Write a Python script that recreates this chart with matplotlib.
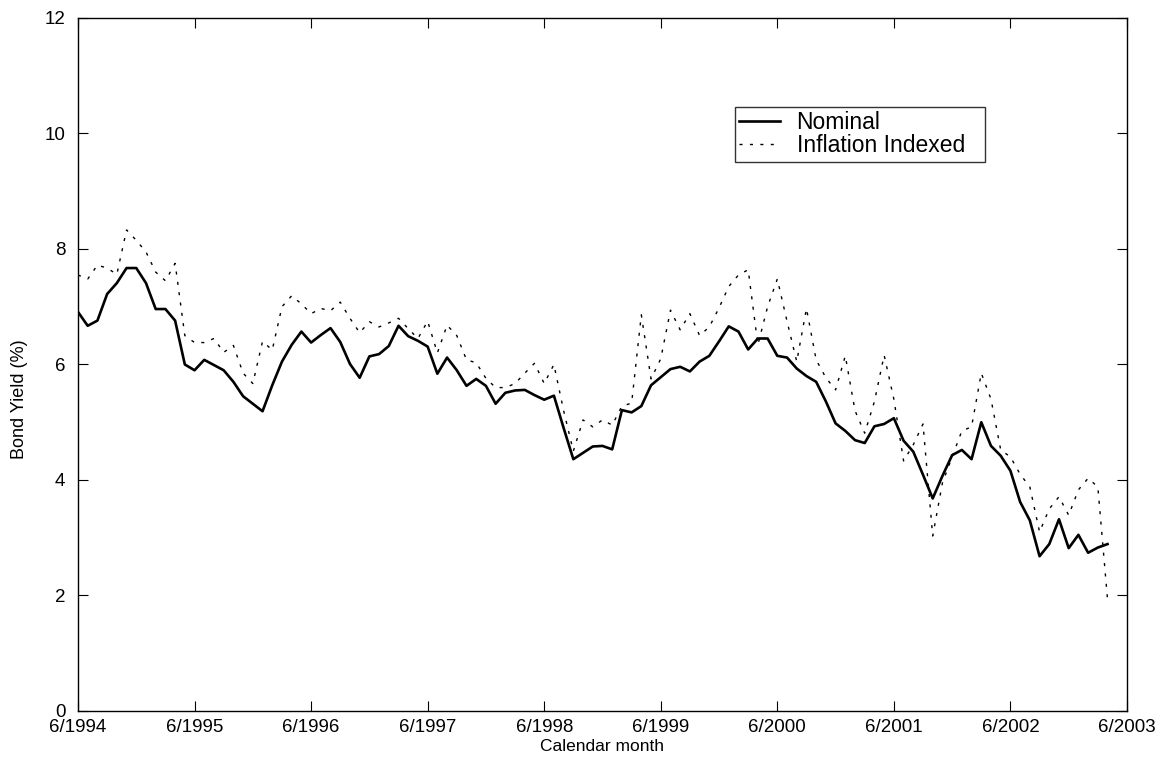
import matplotlib
matplotlib.use("Agg")
import matplotlib.pyplot as plt
import numpy as np

# monthly bond yields (%), starting 6/1994
nominal = [
    6.91, 6.67, 6.76, 7.22, 7.41, 7.67, 7.67, 7.41, 6.96, 6.96,
    6.76, 6.00, 5.90, 6.08, 5.99, 5.90, 5.70, 5.45, 5.32, 5.19,
    5.64, 6.05, 6.34, 6.57, 6.38, 6.51, 6.63, 6.39, 6.01, 5.77,
    6.14, 6.18, 6.32, 6.67, 6.49, 6.41, 6.31, 5.84, 6.12, 5.90,
    5.63, 5.75, 5.63, 5.32, 5.51, 5.55, 5.56, 5.47, 5.39, 5.46,
    4.90, 4.36, 4.47, 4.58, 4.59, 4.53, 5.21, 5.17, 5.28, 5.64,
    5.78, 5.92, 5.96, 5.88, 6.05, 6.15, 6.40, 6.66, 6.57, 6.26,
    6.45, 6.45, 6.15, 6.12, 5.93, 5.80, 5.70, 5.36, 4.98, 4.85,
    4.69, 4.64, 4.93, 4.97, 5.07, 4.68, 4.49, 4.09, 3.68, 4.07,
    4.43, 4.52, 4.36, 5.00, 4.59, 4.42, 4.16, 3.62, 3.30, 2.68,
    2.89, 3.32, 2.82, 3.05, 2.74, 2.83, 2.89,
]
indexed = [
    7.55, 7.48, 7.72, 7.67, 7.56, 8.33, 8.15, 7.95, 7.60, 7.45,
    7.75, 6.50, 6.38, 6.38, 6.45, 6.21, 6.33, 5.85, 5.67, 6.40,
    6.25, 7.00, 7.19, 7.05, 6.88, 6.97, 6.93, 7.08, 6.80, 6.55,
    6.74, 6.65, 6.72, 6.80, 6.62, 6.45, 6.75, 6.20, 6.68, 6.50,
    6.08, 6.03, 5.76, 5.60, 5.60, 5.67, 5.85, 6.02, 5.67, 6.00,
    5.20, 4.50, 5.04, 4.92, 5.04, 4.95, 5.28, 5.33, 6.86, 5.75,
    6.10, 6.94, 6.60, 6.88, 6.50, 6.65, 6.98, 7.35, 7.55, 7.64,
    6.34, 7.00, 7.48, 6.75, 6.05, 6.97, 6.08, 5.77, 5.56, 6.15,
    5.20, 4.81, 5.36, 6.16, 5.40, 4.33, 4.61, 4.97, 3.03, 3.95,
    4.40, 4.85, 4.92, 5.85, 5.40, 4.52, 4.40, 4.10, 3.88, 3.10,
    3.50, 3.71, 3.39, 3.83, 4.03, 3.88, 1.93,
]
tick_labels = ["6/1994", "6/1995", "6/1996", "6/1997", "6/1998",
               "6/1999", "6/2000", "6/2001", "6/2002", "6/2003"]

plt.rcParams["font.family"] = ["Liberation Sans", "DejaVu Sans"]

months = np.arange(len(nominal))

fig = plt.figure(figsize=(11.71, 7.65), dpi=100)
ax = fig.add_axes([0.0666, 0.0706, 0.8958, 0.9059])

ax.plot(months, nominal, color="black", lw=1.9, label="Nominal")
ax.plot(months, indexed, color="black", lw=1.0, ls=(0, (2.2, 5.3)),
        label="Inflation Indexed")

ax.set_xlim(0, 108)
ax.set_ylim(0, 12)
ax.set_xticks(np.arange(0, 109, 12))
ax.set_xticklabels(tick_labels)
ax.set_yticks(np.arange(0, 13, 2))

ax.tick_params(direction="in", length=7, width=0.8, labelsize=13.5,
               top=True, right=True)
ax.tick_params(axis="x", pad=6)
ax.tick_params(axis="y", pad=9)
for s in ax.spines.values():
    s.set_linewidth(1.0)

ax.set_xlabel("Calendar month", fontsize=12.5, labelpad=2)
ax.set_ylabel("Bond Yield (%)", fontsize=13)
ax.yaxis.set_label_coords(-0.048, 0.45)

# legend stretched to the box width seen in the reference
leg = ax.legend(loc="upper left", bbox_to_anchor=(0.626, 0.772, 0.2383, 0.1),
                mode="expand", fontsize=16.5, frameon=True, fancybox=False,
                edgecolor="black", handlelength=1.8, borderpad=0.2,
                labelspacing=0.0, handletextpad=0.7, borderaxespad=0)
leg.get_frame().set_linewidth(1.0)

fig.savefig("out.png", dpi=100)
